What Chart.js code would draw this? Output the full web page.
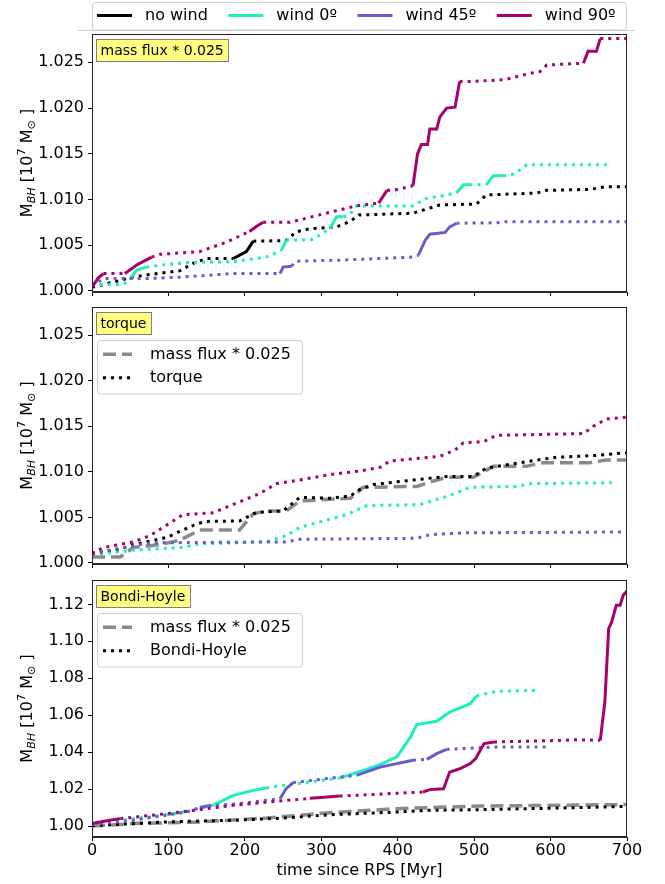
<!DOCTYPE html>
<html>
<head>
<meta charset="utf-8">
<script src="https://cdn.jsdelivr.net/npm/chart.js@4.4.1/dist/chart.umd.min.js"></script>
<style>
html, body { margin: 0; padding: 0; background: #fff; }
#wrap { position: relative; width: 665px; height: 884px; }
canvas { position: absolute; left: 0; }
</style>
</head>
<body>
<div id="wrap">
  <canvas id="panelMassFlux" width="665" height="300" style="top:0"></canvas>
  <canvas id="panelTorque" width="665" height="270" style="top:300px"></canvas>
  <canvas id="panelBondi" width="665" height="314" style="top:570px"></canvas>
</div>
<script>
// ── Axis ticks ──
var timeTicks = [0, 100, 200, 300, 400, 500, 600, 700];
var massTicksFine = [1.000, 1.005, 1.010, 1.015, 1.020, 1.025];
var massTicksBondi = [1.00, 1.02, 1.04, 1.06, 1.08, 1.10, 1.12];
var seriesNames = ['no wind', 'wind 0º', 'wind 45º', 'wind 90º'];

// ── Panel 1: mass flux * 0.025 (t [Myr], M_BH [1e7 Msun], solid = high-accretion phases) ──
var mfNoWindT = [0, 30, 54, 76, 115, 132, 150, 185, 202, 211, 254, 267, 285, 320, 338, 349, 420, 455, 503, 516, 582, 595, 651, 673, 700];
var mfNoWindM = [1.0004, 1.0010, 1.00153, 1.0018, 1.0022, 1.0030, 1.00354, 1.00354, 1.0043, 1.00544, 1.0055, 1.00646, 1.0068, 1.0070, 1.0076, 1.0083, 1.0085, 1.0094, 1.0095, 1.0105, 1.0107, 1.0110, 1.0111, 1.0114, 1.0114];
var mfNoWindSolid = [[185, 212]];

var mfWind0T = [0, 41, 50, 58, 71, 89, 124, 185, 228, 248, 254, 287, 298, 311, 320, 329, 338, 346, 355, 420, 437, 477, 486, 494, 516, 525, 538, 553, 569, 680];
var mfWind0M = [1.0007, 1.0007, 1.00135, 1.00226, 1.0026, 1.0028, 1.0031, 1.0032, 1.0037, 1.00445, 1.00555, 1.0056, 1.0061, 1.0068, 1.0081, 1.0081, 1.0084, 1.0093, 1.0093, 1.0093, 1.0101, 1.0107, 1.0116, 1.0116, 1.0116, 1.0126, 1.0126, 1.0128, 1.0138, 1.0138];
var mfWind0Solid = [[48, 72], [246, 260], [306, 330], [480, 494], [519, 538]];

var mfWind45T = [0, 15, 71, 115, 185, 246, 250, 261, 267, 324, 420, 427, 436, 442, 462, 468, 477, 529, 540, 700];
var mfWind45M = [1.0005, 1.00135, 1.00135, 1.0015, 1.0019, 1.0019, 1.0026, 1.0027, 1.00325, 1.00336, 1.0037, 1.0039, 1.00555, 1.0062, 1.0064, 1.0070, 1.0074, 1.00745, 1.00756, 1.00756];
var mfWind45Solid = [[247, 263], [425, 480]];

var mfWind90T = [0, 8, 15, 43, 60, 78, 89, 141, 175, 206, 216, 224, 259, 311, 346, 375, 386, 394, 420, 426, 431, 439, 442, 451, 455, 464, 475, 481, 495, 540, 573, 586, 595, 617, 643, 649, 660, 665, 700];
var mfWind90M = [1.0004, 1.0014, 1.0019, 1.0019, 1.0029, 1.0037, 1.0040, 1.0043, 1.0053, 1.0065, 1.0071, 1.0075, 1.0075, 1.0086, 1.0093, 1.0096, 1.0110, 1.0110, 1.0115, 1.0150, 1.0160, 1.0160, 1.0177, 1.0177, 1.0190, 1.0200, 1.0201, 1.0229, 1.0229, 1.0231, 1.0238, 1.0240, 1.0247, 1.0248, 1.0249, 1.0262, 1.0262, 1.0276, 1.0276];
var mfWind90Solid = [[0, 15], [43, 80], [206, 226], [375, 387], [420, 482], [643, 666]];

// ── Panel 2: torque ──
var tqRefT = [0, 37, 54, 89, 115, 141, 193, 211, 228, 254, 272, 338, 355, 425, 447, 464, 499, 525, 568, 590, 651, 673, 700];
var tqRefM = [1.00065, 1.00065, 1.0017, 1.0020, 1.0025, 1.0036, 1.0036, 1.0054, 1.0057, 1.0057, 1.0068, 1.0071, 1.0083, 1.0084, 1.0090, 1.0094, 1.0094, 1.0106, 1.0106, 1.0110, 1.0110, 1.0113, 1.0113];

var tqNoWindT = [0, 28, 54, 98, 137, 150, 193, 215, 250, 272, 311, 338, 351, 368, 399, 464, 499, 516, 538, 582, 608, 660, 700];
var tqNoWindM = [1.0011, 1.0013, 1.0020, 1.0028, 1.0043, 1.00456, 1.0046, 1.00554, 1.0057, 1.0072, 1.0071, 1.00735, 1.0081, 1.0086, 1.0089, 1.0095, 1.0095, 1.0104, 1.0107, 1.0113, 1.0116, 1.0118, 1.0121];

var tqWind0T = [0, 23, 54, 119, 141, 228, 254, 272, 298, 333, 360, 429, 468, 495, 556, 573, 680];
var tqWind0M = [1.0009, 1.0011, 1.0014, 1.0017, 1.0021, 1.0023, 1.0030, 1.0039, 1.0045, 1.0053, 1.0063, 1.0064, 1.0074, 1.0083, 1.0084, 1.0087, 1.0088];

var tqWind45T = [0, 23, 76, 228, 254, 272, 425, 442, 486, 700];
var tqWind45M = [1.0009, 1.0014, 1.0022, 1.0023, 1.0023, 1.0026, 1.0027, 1.0031, 1.0033, 1.0034];

var tqWind90T = [0, 15, 54, 76, 106, 119, 158, 219, 241, 272, 311, 351, 377, 390, 455, 475, 486, 512, 529, 643, 656, 673, 700];
var tqWind90M = [1.0010, 1.0017, 1.0023, 1.0030, 1.0046, 1.0053, 1.0055, 1.0076, 1.0087, 1.0091, 1.0097, 1.0101, 1.0105, 1.0112, 1.0117, 1.0124, 1.0132, 1.0133, 1.0140, 1.0142, 1.0150, 1.0158, 1.0160];

// ── Panel 3: Bondi-Hoyle ──
var bhRefT = [0, 54, 141, 228, 311, 399, 507, 700];
var bhRefM = [1.0000, 1.0013, 1.0022, 1.0043, 1.0072, 1.0094, 1.0108, 1.0116];

var bhNoWindT = [0, 50, 98, 150, 185, 250, 311, 400, 442, 500, 573, 640, 700];
var bhNoWindM = [1.0002, 1.0012, 1.0022, 1.0028, 1.0031, 1.0043, 1.0061, 1.0076, 1.0085, 1.0088, 1.0094, 1.0100, 1.0106];

var bhWind0T = [0, 54, 98, 124, 158, 185, 211, 228, 250, 324, 355, 377, 399, 416, 425, 451, 468, 495, 503, 516, 529, 586];
var bhWind0M = [1.0007, 1.0040, 1.0061, 1.0079, 1.0112, 1.0166, 1.0193, 1.0206, 1.0220, 1.0260, 1.0301, 1.0332, 1.0374, 1.0477, 1.0549, 1.0567, 1.0617, 1.0662, 1.0704, 1.0717, 1.0729, 1.0735];
var bhWind0Solid = [[95, 125], [165, 230], [305, 425], [437, 506]];

var bhWind45T = [0, 54, 124, 141, 152, 185, 246, 254, 263, 324, 346, 377, 420, 438, 451, 464, 529, 599];
var bhWind45M = [1.0007, 1.0031, 1.0076, 1.0100, 1.0110, 1.0118, 1.0148, 1.0202, 1.0235, 1.0265, 1.0274, 1.0319, 1.0356, 1.0361, 1.0392, 1.0415, 1.0428, 1.0428];
var bhWind45Solid = [[137, 152], [247, 264], [346, 399], [433, 475]];

var bhWind90T = [0, 23, 37, 98, 185, 285, 300, 324, 433, 442, 460, 468, 481, 495, 502, 513, 526, 617, 630, 665, 671, 676, 680, 686, 691, 695, 700];
var bhWind90M = [1.0013, 1.0031, 1.0040, 1.0067, 1.0112, 1.0150, 1.0154, 1.0162, 1.0184, 1.0197, 1.0202, 1.0292, 1.0310, 1.0338, 1.0365, 1.0446, 1.0455, 1.0464, 1.0467, 1.0464, 1.0671, 1.1069, 1.1105, 1.1195, 1.1195, 1.1249, 1.1273];
var bhWind90Solid = [[0, 40], [285, 325], [435, 526], [625, 640], [664, 700]];

// ── Styles ──
var COLORS = ['#000000', '#1CF0BA', '#6A5ACD', '#A6026A'];
var REF_COLOR = '#8a8a8a';
var DOT = [3, 5];
var DASH = [13, 6];
var FONT = '"DejaVu Sans", sans-serif';

Chart.defaults.font.family = FONT;
Chart.defaults.font.size = 16;
Chart.defaults.color = '#000';

function pts(t, m) {
    return t.map(function(x, i) { return { x: x, y: m[i] }; });
}

function lineSet(label, t, m, color, solid, order) {
    var ranges = solid || [];
    return {
        label: label, data: pts(t, m), borderColor: color, borderWidth: 3,
        pointRadius: 0, tension: 0, borderCapStyle: 'butt', borderDash: DOT, order: order,
        segment: {
            borderDash: function(ctx) {
                var mid = (ctx.p0.parsed.x + ctx.p1.parsed.x) / 2;
                var on = ranges.some(function(r) { return mid >= r[0] && mid <= r[1]; });
                return on ? [] : DOT;
            }
        }
    };
}

function refSet(label, t, m, order) {
    return { label: label, data: pts(t, m), borderColor: REF_COLOR, borderWidth: 3.5,
        pointRadius: 0, tension: 0, borderCapStyle: 'butt', borderDash: DASH, order: order };
}

// ── Decorations: frame, y title, yellow label, legends ──
function yTitle(ctx, a) {
    var parts = [
        { t: 'M', s: 16, dy: 0 },
        { t: 'BH', s: 11.2, dy: 3.5, it: true },
        { t: ' [10', s: 16, dy: 0 },
        { t: '7', s: 11.2, dy: -6.5 },
        { t: ' M', s: 16, dy: 0 },
        { t: '\u2299', s: 11.2, dy: 3.5 },
        { t: ' ]', s: 16, dy: 0 }
    ];
    var total = 0;
    parts.forEach(function(p) {
        ctx.font = (p.it ? 'italic ' : '') + p.s + 'px ' + FONT;
        p.w = ctx.measureText(p.t).width;
        total += p.w;
    });
    ctx.save();
    ctx.translate(31.5, (a.top + a.bottom) / 2);
    ctx.rotate(-Math.PI / 2);
    ctx.fillStyle = '#000';
    ctx.textBaseline = 'alphabetic';
    ctx.textAlign = 'left';
    var x = -total / 2;
    parts.forEach(function(p) {
        ctx.font = (p.it ? 'italic ' : '') + p.s + 'px ' + FONT;
        ctx.fillText(p.t, x, p.dy);
        x += p.w;
    });
    ctx.restore();
}

function roundBox(ctx, x, y, w, h, r) {
    ctx.beginPath();
    ctx.moveTo(x + r, y);
    ctx.arcTo(x + w, y, x + w, y + h, r);
    ctx.arcTo(x + w, y + h, x, y + h, r);
    ctx.arcTo(x, y + h, x, y, r);
    ctx.arcTo(x, y, x + w, y, r);
    ctx.closePath();
}

function sample(ctx, x0, x1, y, color, width, dash) {
    ctx.save();
    ctx.strokeStyle = color;
    ctx.lineWidth = width;
    ctx.lineCap = 'butt';
    ctx.setLineDash(dash);
    ctx.beginPath();
    ctx.moveTo(x0, y);
    ctx.lineTo(x1, y);
    ctx.stroke();
    ctx.restore();
}

var deco = {
    id: 'deco',
    afterDraw: function(chart, args, o) {
        var ctx = chart.ctx, a = chart.chartArea;
        ctx.save();
        // frame
        ctx.strokeStyle = '#262626';
        ctx.lineWidth = 1;
        ctx.strokeRect(Math.round(a.left) + 0.5, Math.round(a.top) + 0.5, Math.round(a.right - a.left) - 1, Math.round(a.bottom - a.top) - 1);

        yTitle(ctx, a);

        // yellow panel label
        ctx.font = '14px ' + FONT;
        var lw = ctx.measureText(o.label).width + 9;
        var lx = Math.round(a.left + 3.7), ly = Math.round(a.top + 5.3);
        ctx.fillStyle = '#ffff80';
        ctx.fillRect(lx, ly, lw, 23);
        ctx.strokeStyle = '#808080';
        ctx.strokeRect(lx + 0.5, ly + 0.5, Math.round(lw), 22);
        ctx.fillStyle = '#000';
        ctx.textBaseline = 'middle';
        ctx.textAlign = 'left';
        ctx.fillText(o.label, lx + 4.5, ly + 12.5);

        // inner legend (method comparison)
        if (o.inner) {
            ctx.font = '16px ' + FONT;
            var maxW = 0;
            o.inner.forEach(function(it) { maxW = Math.max(maxW, ctx.measureText(it.text).width); });
            var bx = a.left + 5, by = a.top + 33, bw = 53 + maxW + 11, bh = 53.5;
            roundBox(ctx, bx + 0.5, by + 0.5, bw, bh, 3);
            ctx.fillStyle = 'rgba(255,255,255,0.8)';
            ctx.fill();
            ctx.strokeStyle = '#cccccc';
            ctx.stroke();
            o.inner.forEach(function(it, i) {
                var cy = by + 14.3 + i * 23.4;
                sample(ctx, bx + 6, bx + 35, cy, it.color, it.width, it.dash);
                ctx.fillStyle = '#000';
                ctx.fillText(it.text, bx + 53, cy + 0.5);
            });
        }

        // figure legend on top
        if (o.topLegend) {
            ctx.strokeStyle = '#d0d0d0';
            ctx.beginPath();
            ctx.moveTo(78, 30.5);
            ctx.lineTo(635, 30.5);
            ctx.stroke();
            roundBox(ctx, 92.5, 2.5, 534, 27.5, 3);
            ctx.fillStyle = 'rgba(255,255,255,0.9)';
            ctx.fill();
            ctx.strokeStyle = '#cccccc';
            ctx.stroke();
            ctx.font = '16px ' + FONT;
            var x = 97;
            seriesNames.forEach(function(name, i) {
                sample(ctx, x, x + 35, 15.5, COLORS[i], 3, []);
                ctx.fillStyle = '#000';
                ctx.fillText(name, x + 48, 16);
                x += 48 + ctx.measureText(name).width + 20.5;
            });
        }
        ctx.restore();
    }
};

function makePanel(id, cfg) {
    return new Chart(document.getElementById(id), {
        type: 'line',
        data: { datasets: cfg.datasets },
        options: {
            responsive: false, animation: false, devicePixelRatio: 1,
            layout: { padding: { top: cfg.padTop, right: 38, bottom: 0, left: 0 } },
            plugins: { legend: { display: false }, tooltip: { enabled: false }, deco: cfg.deco },
            scales: {
                x: {
                    type: 'linear', min: 0, max: 700,
                    afterBuildTicks: function(s) { s.ticks = timeTicks.map(function(v) { return { value: v }; }); },
                    afterFit: function(s) { s.height = cfg.xHeight; s.paddingLeft = 0; s.paddingRight = 0; },
                    grid: { drawOnChartArea: false, drawTicks: true, tickLength: 4, tickColor: '#000', tickWidth: 1 },
                    border: { color: '#262626', width: 1 },
                    ticks: { display: cfg.xLabels, padding: 0, color: '#000', font: { size: 16 }, maxRotation: 0, autoSkip: false },
                    title: { display: cfg.xLabels, text: 'time since RPS [Myr]', color: '#000', font: { size: 16 }, padding: { top: 0, bottom: 4 } }
                },
                y: {
                    type: 'linear', min: cfg.yMin, max: cfg.yMax,
                    afterBuildTicks: function(s) { s.ticks = cfg.yTicks.map(function(v) { return { value: v }; }); },
                    afterFit: function(s) { s.width = 92; s.paddingTop = 0; s.paddingBottom = 0; },
                    grid: { drawOnChartArea: false, drawTicks: true, tickLength: 4, tickColor: '#000', tickWidth: 1 },
                    border: { color: '#262626', width: 1 },
                    ticks: { padding: 4, color: '#000', font: { size: 16 }, callback: function(v) { return v.toFixed(cfg.decimals); } }
                }
            }
        },
        plugins: [deco]
    });
}

var innerRef = { text: 'mass flux * 0.025', color: REF_COLOR, width: 3.5, dash: DASH };

makePanel('panelMassFlux', {
    padTop: 34, xHeight: 8, xLabels: false, yMin: 0.99988, yMax: 1.0281, yTicks: massTicksFine, decimals: 3,
    deco: { label: 'mass flux * 0.025', topLegend: true },
    datasets: [
        lineSet(seriesNames[0], mfNoWindT, mfNoWindM, COLORS[0], mfNoWindSolid, 4),
        lineSet(seriesNames[1], mfWind0T, mfWind0M, COLORS[1], mfWind0Solid, 3),
        lineSet(seriesNames[2], mfWind45T, mfWind45M, COLORS[2], mfWind45Solid, 2),
        lineSet(seriesNames[3], mfWind90T, mfWind90M, COLORS[3], mfWind90Solid, 1)
    ]
});

makePanel('panelTorque', {
    padTop: 7, xHeight: 6, xLabels: false, yMin: 0.99988, yMax: 1.0281, yTicks: massTicksFine, decimals: 3,
    deco: { label: 'torque', inner: [innerRef, { text: 'torque', color: '#000', width: 3, dash: DOT }] },
    datasets: [
        refSet('mass flux * 0.025', tqRefT, tqRefM, 5),
        lineSet(seriesNames[0], tqNoWindT, tqNoWindM, COLORS[0], [], 4),
        lineSet(seriesNames[1], tqWind0T, tqWind0M, COLORS[1], [], 3),
        lineSet(seriesNames[2], tqWind45T, tqWind45M, COLORS[2], [], 2),
        lineSet(seriesNames[3], tqWind90T, tqWind90M, COLORS[3], [], 1)
    ]
});

makePanel('panelBondi', {
    padTop: 10, xHeight: 47, xLabels: true, yMin: 0.99405, yMax: 1.1332, yTicks: massTicksBondi, decimals: 2,
    deco: { label: 'Bondi-Hoyle', inner: [innerRef, { text: 'Bondi-Hoyle', color: '#000', width: 3, dash: DOT }] },
    datasets: [
        refSet('mass flux * 0.025', bhRefT, bhRefM, 5),
        lineSet(seriesNames[0], bhNoWindT, bhNoWindM, COLORS[0], [], 4),
        lineSet(seriesNames[1], bhWind0T, bhWind0M, COLORS[1], bhWind0Solid, 3),
        lineSet(seriesNames[2], bhWind45T, bhWind45M, COLORS[2], bhWind45Solid, 2),
        lineSet(seriesNames[3], bhWind90T, bhWind90M, COLORS[3], bhWind90Solid, 1)
    ]
});
</script>
</body>
</html>
